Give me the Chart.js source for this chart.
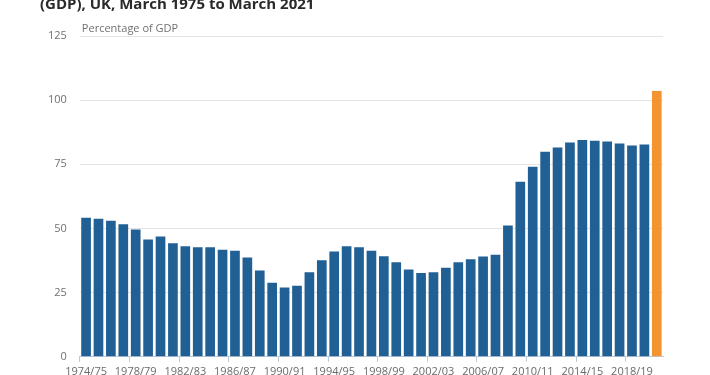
<!DOCTYPE html>
<html>
<head>
<meta charset="utf-8">
<script src="https://cdn.jsdelivr.net/npm/chart.js@4/dist/chart.umd.min.js"></script>
<style>
  html, body { margin: 0; padding: 0; background: #fff; overflow: hidden; }
  #wrap { position: relative; width: 710px; height: 375px; overflow: hidden; }
  #wrap canvas { position: absolute; left: 0; top: 0; }
</style>
</head>
<body>
<div id="wrap"><canvas id="c" width="710" height="396"></canvas></div>
<script>
// financial years, March 1975 to March 2021
let years = ['1974/75','1975/76','1976/77','1977/78','1978/79','1979/80','1980/81','1981/82',
  '1982/83','1983/84','1984/85','1985/86','1986/87','1987/88','1988/89','1989/90','1990/91',
  '1991/92','1992/93','1993/94','1994/95','1995/96','1996/97','1997/98','1998/99','1999/00',
  '2000/01','2001/02','2002/03','2003/04','2004/05','2005/06','2006/07','2007/08','2008/09',
  '2009/10','2010/11','2011/12','2012/13','2013/14','2014/15','2015/16','2016/17','2017/18',
  '2018/19','2019/20','2020/21']

// Percentage of GDP
let debt = [54.2, 53.8, 53.0, 51.6, 49.6, 45.7, 46.9, 44.2, 43.1, 42.7, 42.7, 41.7, 41.3, 38.7,
  33.6, 28.9, 27.0, 27.7, 32.9, 37.6, 41.0, 43.1, 42.7, 41.3, 39.2, 36.8, 34.0, 32.7, 32.9,
  34.7, 36.8, 38.0, 39.1, 39.8, 51.2, 68.2, 74.1, 79.9, 81.6, 83.5, 84.5, 84.2, 83.9, 83.1,
  82.3, 82.7, 103.6]

let yTicks = [0, 25, 50, 75, 100, 125]

let blue = '#206095'
let orange = '#f39431'
let colors = debt.map((v, i) => i == debt.length - 1 ? orange : blue)

// texte en haut du graphique
let labels = {
    id: 'labels',
    afterDraw(chart) {
        let ctx = chart.ctx
        ctx.save()
        ctx.fillStyle = '#2a2a2a'
        ctx.font = 'bold 15px "Open Sans"'
        ctx.textBaseline = 'alphabetic'
        ctx.fillText('(GDP), UK, March 1975 to March 2021', 40, 9)
        ctx.fillStyle = '#707070'
        ctx.font = '11px "Open Sans"'
        ctx.fillText('Percentage of GDP', chart.chartArea.left + 2, chart.chartArea.top - 4)
        ctx.restore()
    }
}

let chart = new Chart(document.getElementById('c'), {
    type: 'bar',
    data: {
        labels: years,
        datasets: [{
            label: 'Public sector net debt',
            data: debt,
            backgroundColor: colors,
            categoryPercentage: 1,
            barPercentage: 0.78
        }]
    },
    options: {
        responsive: false,
        animation: false,
        layout: { padding: { left: 35, right: 47, top: 36, bottom: 15 } },
        plugins: {
            legend: { display: false },
            tooltip: { enabled: false }
        },
        scales: {
            x: {
                grid: {
                    drawOnChartArea: false,
                    tickLength: 5,
                    tickColor: ctx => ctx.index % 4 == 0 ? '#b9c9d8' : 'rgba(0,0,0,0)'
                },
                border: { color: '#b9c9d8' },
                ticks: {
                    autoSkip: false,
                    maxRotation: 0,
                    padding: 3,
                    color: '#6a6a6a',
                    font: { family: 'Open Sans', size: 11 },
                    callback: function (v, i) { return i % 4 == 0 ? years[i] : '' }
                }
            },
            y: {
                min: 0,
                max: 125,
                afterBuildTicks: axis => { axis.ticks = yTicks.map(v => ({ value: v })) },
                grid: { color: '#e4e4e4', drawTicks: false },
                border: { display: false },
                ticks: {
                    padding: 13,
                    color: '#707070',
                    font: { family: 'Open Sans', size: 11 }
                }
            }
        }
    },
    plugins: [labels]
})
</script>
</body>
</html>
